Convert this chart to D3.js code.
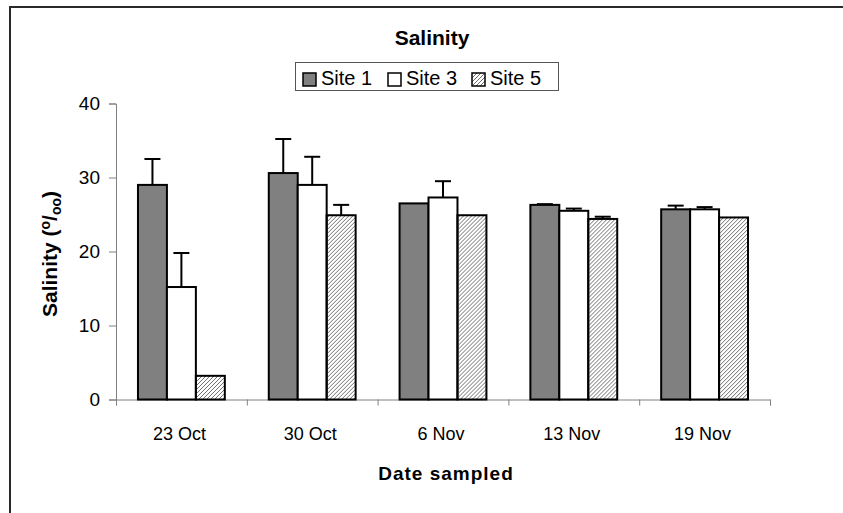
<!DOCTYPE html>
<html>
<head>
<meta charset="utf-8">
<script src="https://cdn.jsdelivr.net/npm/d3@7"></script>
<style>
  body { margin: 0; background: #fff; }
  svg text { font-family: Arial, "Liberation Sans", sans-serif; fill: #000; }
</style>
</head>
<body>
<div class="chart"></div>
<script>
        // data
        var categories = ["23 Oct", "30 Oct", "6 Nov", "13 Nov", "19 Nov"];
        var seriesNames = ["Site 1", "Site 3", "Site 5"];
        var site1 = [29.0, 30.6, 26.5, 26.3, 25.7];
        var site1Err = [3.5, 4.6, 0, 0.1, 0.5];
        var site3 = [15.2, 29.0, 27.3, 25.5, 25.7];
        var site3Err = [4.6, 3.8, 2.2, 0.3, 0.3];
        var site5 = [3.2, 24.9, 24.9, 24.4, 24.6];
        var site5Err = [0, 1.4, 0, 0.3, 0];
        var yTicks = [0, 10, 20, 30, 40];

        var width = 843, height = 513;
        var plotLeft = 116, plotRight = 770, plotTop = 103.5, plotBottom = 399.5;

        var svg = d3.select(".chart")
            .append("svg")
            .attr("width", width)
            .attr("height", height);

        //hatch pattern for site 5
        var defs = svg.append("defs");
        defs.append("pattern")
            .attr("id", "hatch")
            .attr("patternUnits", "userSpaceOnUse")
            .attr("width", 4)
            .attr("height", 4)
            .append("path")
            .attr("d", "M-1,1 l2,-2 M0,4 l4,-4 M3,5 l2,-2")
            .attr("stroke", "#6f6f6f")
            .attr("stroke-width", 1);

        var fills = d3.scaleOrdinal()
            .domain(seriesNames)
            .range(["#808080", "#ffffff", "url(#hatch)"]);

        //outer frame (only left and top edges show)
        svg.append("rect")
            .attr("x", 10)
            .attr("y", 7)
            .attr("width", 900)
            .attr("height", 600)
            .attr("fill", "none")
            .attr("stroke", "#2a2a2a")
            .attr("stroke-width", 2);

        //scales
        var x0 = d3.scaleBand()
            .domain(categories)
            .range([plotLeft, plotRight])
            .paddingInner(0.336)
            .paddingOuter(0.168);
        var x1 = d3.scaleBand()
            .domain(seriesNames)
            .range([0, x0.bandwidth()]);
        var y = d3.scaleLinear()
            .domain([0, 40])
            .range([plotBottom, plotTop]);

        //axes
        var yAxis = svg.append("g")
            .attr("transform", "translate(" + plotLeft + ",0)")
            .call(d3.axisLeft(y).tickValues(yTicks).tickSizeOuter(0).tickSize(7).tickPadding(9));
        var xAxis = svg.append("g")
            .attr("transform", "translate(0," + plotBottom + ")")
            .call(d3.axisBottom(d3.scaleLinear().domain([0, 5]).range([plotLeft, plotRight]))
                .tickValues([0, 1, 2, 3, 4, 5]).tickFormat("").tickSizeOuter(0).tickSize(6));
        [yAxis, xAxis].forEach(function (g) {
            g.selectAll("path, line").attr("stroke", "#808080");
        });
        yAxis.selectAll("text")
            .attr("font-size", "19px")
            .style("font-family", "Arial, 'Liberation Sans', sans-serif");

        //category labels
        svg.selectAll(".catlabel")
            .data(categories)
            .enter()
            .append("text")
            .attr("x", function (d) { return x0(d) + x0.bandwidth() / 2 - 2 })
            .attr("y", 440)
            .attr("text-anchor", "middle")
            .attr("font-size", "18px")
            .text(function (d) { return d });

        //bars
        var rows = categories.map(function (c, i) {
            return [
                { cat: c, name: "Site 1", v: site1[i], e: site1Err[i] },
                { cat: c, name: "Site 3", v: site3[i], e: site3Err[i] },
                { cat: c, name: "Site 5", v: site5[i], e: site5Err[i] }
            ];
        });
        var groups = svg.selectAll(".grp")
            .data(rows)
            .enter()
            .append("g")
            .attr("transform", function (d, i) { return "translate(" + x0(categories[i]) + ",0)" });

        groups.selectAll("rect")
            .data(function (d) { return d })
            .enter()
            .append("rect")
            .attr("x", function (d) { return x1(d.name) })
            .attr("y", function (d) { return y(d.v) })
            .attr("width", x1.bandwidth())
            .attr("height", function (d) { return y(0) - y(d.v) })
            .attr("fill", function (d) { return fills(d.name) })
            .attr("stroke", "#000")
            .attr("stroke-width", 2);

        //error bars (upper only)
        var errs = groups.selectAll(".err")
            .data(function (d) { return d.filter(function (r) { return r.e > 0 }) })
            .enter()
            .append("g")
            .attr("stroke", "#000")
            .attr("stroke-width", 2);
        errs.append("line")
            .attr("x1", function (d) { return x1(d.name) + x1.bandwidth() / 2 })
            .attr("x2", function (d) { return x1(d.name) + x1.bandwidth() / 2 })
            .attr("y1", function (d) { return y(d.v) })
            .attr("y2", function (d) { return y(d.v + d.e) });
        errs.append("line")
            .attr("x1", function (d) { return x1(d.name) + x1.bandwidth() / 2 - 8 })
            .attr("x2", function (d) { return x1(d.name) + x1.bandwidth() / 2 + 8 })
            .attr("y1", function (d) { return y(d.v + d.e) })
            .attr("y2", function (d) { return y(d.v + d.e) });

        //title
        svg.append("text")
            .attr("x", 432)
            .attr("y", 45)
            .attr("text-anchor", "middle")
            .attr("font-size", "21px")
            .attr("font-weight", "bold")
            .text("Salinity");

        //legend
        svg.append("rect")
            .attr("x", 295.5)
            .attr("y", 62.5)
            .attr("width", 263)
            .attr("height", 28)
            .attr("fill", "#fff")
            .attr("stroke", "#555")
            .attr("stroke-width", 1);
        var legendX = [303, 388, 472];
        var legend = svg.selectAll(".leg")
            .data(seriesNames)
            .enter()
            .append("g")
            .attr("transform", function (d, i) { return "translate(" + legendX[i] + ",70)" });
        legend.append("rect")
            .attr("x", 0)
            .attr("y", 3)
            .attr("width", 13)
            .attr("height", 13)
            .attr("fill", function (d) { return fills(d) })
            .attr("stroke", "#000")
            .attr("stroke-width", 1.5);
        legend.append("text")
            .attr("x", 18)
            .attr("y", 15)
            .attr("font-size", "20px")
            .text(function (d) { return d });

        //y axis title with per-mille style sub/superscripts
        var ylab = svg.append("text")
            .attr("transform", "translate(57,254) rotate(-90)")
            .attr("text-anchor", "middle")
            .attr("font-size", "21px")
            .attr("font-weight", "bold");
        ylab.append("tspan").text("Salinity (");
        ylab.append("tspan").attr("font-size", "14px").attr("dy", -7).text("o");
        ylab.append("tspan").attr("dy", 7).text("/");
        ylab.append("tspan").attr("font-size", "14px").attr("dy", 4).text("oo");
        ylab.append("tspan").attr("dy", -4).text(")");

        //x axis title
        svg.append("text")
            .attr("x", 446)
            .attr("y", 480)
            .attr("text-anchor", "middle")
            .attr("font-size", "19px")
            .attr("font-weight", "bold")
            .attr("letter-spacing", "1px")
            .text("Date sampled");
</script>
</body>
</html>
